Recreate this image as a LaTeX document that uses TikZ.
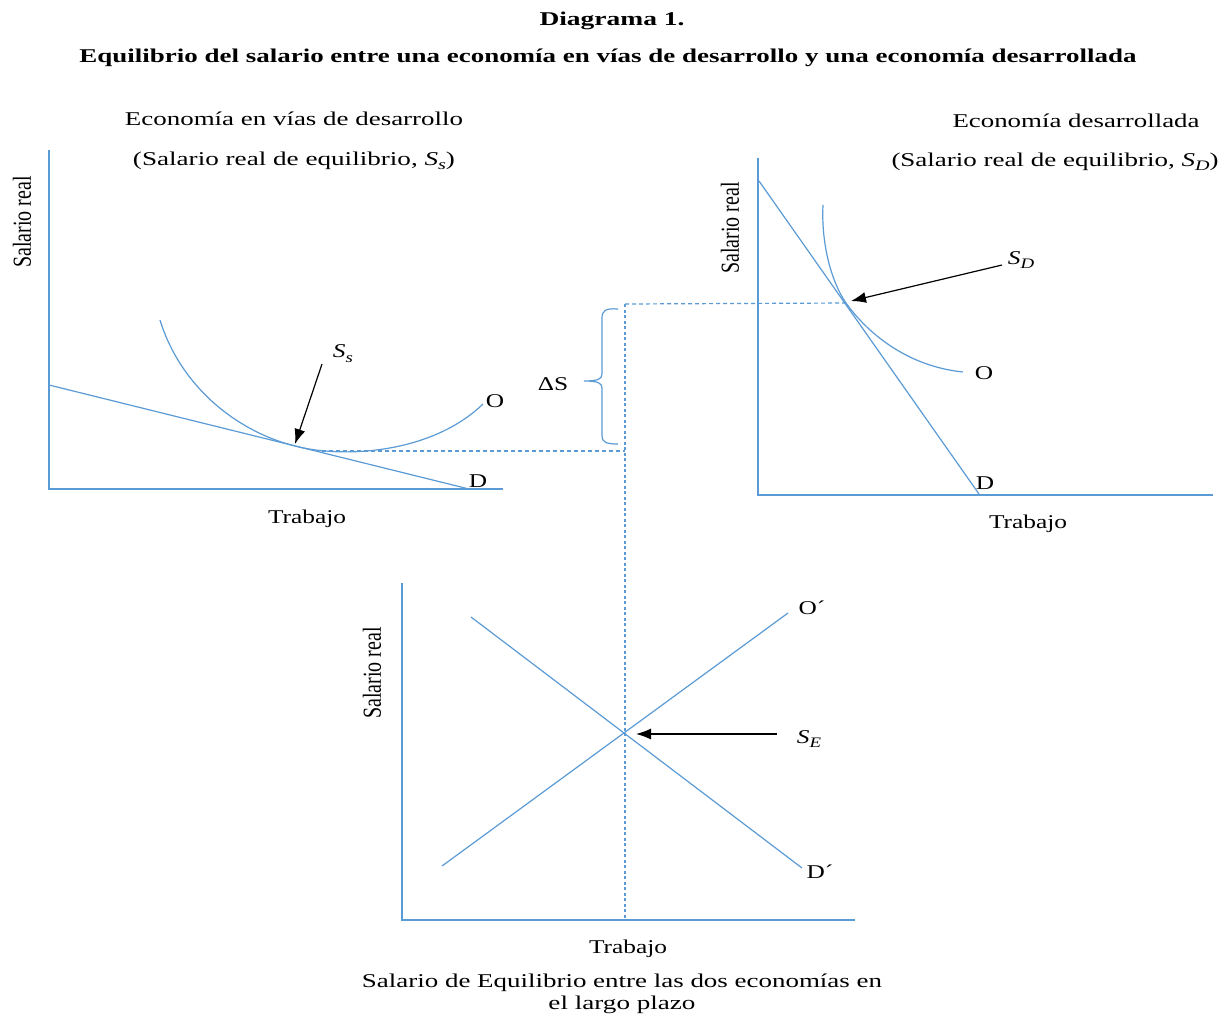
\documentclass[tikz,border=0pt]{standalone}
\usepackage{fontspec}
\setmainfont{Liberation Serif}
\usetikzlibrary{arrows.meta}
\definecolor{ln}{RGB}{91,155,213}
\newcommand{\hs}[2]{\resizebox{#1}{\height}{#2}}
\newcommand{\hx}[1]{\scalebox{1.3}[1]{#1}}
\newcommand{\vx}[1]{\scalebox{1}[1.3]{#1}}
\newcommand{\mysub}[2]{\textit{#1}\raisebox{-0.25em}{\fontsize{14.5}{14.5}\selectfont\textit{#2}}}
\begin{document}
\begin{tikzpicture}[x=1pt,y=-1pt,
  every node/.style={inner sep=0pt, font=\fontsize{19.5}{23}\selectfont},
  ax/.style={draw=ln, line width=1.3pt},
  cv/.style={draw=ln, line width=1.2pt},
  dsh/.style={draw=ln, line width=1.2pt, dash pattern=on 4pt off 3pt},
  dshv/.style={draw=ln, line width=1.1pt, dash pattern=on 3pt off 2.5pt},
  arr/.style={draw=black, line width=1.2pt, -{Latex[length=15pt,width=11pt]}},
  lab/.style={anchor=base},
  vlab/.style={rotate=90, anchor=center, font=\fontsize{20}{24}\selectfont}]
\useasboundingbox (0,0) rectangle (1228,1015);
\fill[white] (0,0) rectangle (1228,1015);

% titles
\node[lab] (t1) at (612,25) {\hs{145pt}{\bfseries Diagrama 1.}};
\node[lab] (t2) at (608,62) {\hs{1057pt}{\bfseries Equilibrio del salario entre una economía en vías de desarrollo y una economía desarrollada}};

% left headings
\node[lab] (lh1) at (294,125) {\hs{338pt}{Economía en vías de desarrollo}};
\node[lab] (lh2) at (294,165) {\hs{322pt}{(Salario real de equilibrio, \mysub{S}{s})}};
% right headings
\node[lab] (rh1) at (1076,127) {\hs{247pt}{Economía desarrollada}};
\node[lab] (rh2) at (1055,166) {\hs{327pt}{(Salario real de equilibrio, \mysub{S}{D})}};

% ---------- left graph ----------
\coordinate (Ltop) at (49,150);
\coordinate (Lo) at (49,489);
\coordinate (Lx) at (503,489);
\draw[ax] (Ltop) -- (Lo) -- (Lx);
\coordinate (Ld1) at (49,385);
\coordinate (Ld2) at (469,489);
\draw[cv] (Ld1) -- (Ld2);
\coordinate (Lc1) at (160,320);
\coordinate (Lt) at (295,446);
\coordinate (Lc2) at (483,404);
\draw[cv] (Lc1) .. controls (180,385) and (235,431) .. (Lt)
               .. controls (340,458) and (430,455) .. (Lc2);
\node (LO) at (495,401) {\hx{O}};
\node (LD) at (478,481) {\hx{D}};
\node[vlab] (Lyl) at (22,222) {\vx{Salario real}};
\node[lab] (Lxl) at (307,523) {\hx{Trabajo}};
\coordinate (Ssa) at (322,364);
\coordinate (Sst) at (295,444);
\draw[arr] (Ssa) -- (Sst);
\node (Ss) at (343,354) {\hx{\mysub{S}{s}}};

% dashed connectors
\coordinate (Lm) at (322,451);
\coordinate (Vb) at (625,451);
\coordinate (Vt) at (625,304);
\coordinate (Vbot) at (625,921);
\coordinate (Rt) at (846,303);
\draw[dsh] (Lm) -- (Vb);
\draw[dsh] (Vt) -- (Rt);
\draw[dshv] (Vt) -- (Vbot);

% brace
\draw[cv] (618,309) .. controls (605,308) and (602,311) .. (602,318) -- (602,374)
          .. controls (602,379) and (598,381) .. (584,381)
          .. controls (598,381) and (602,383) .. (602,388) -- (602,436)
          .. controls (602,442) and (606,444) .. (618,444);
\node (dS) at (553,384) {\hx{ΔS}};

% ---------- right graph ----------
\coordinate (Rtop) at (758,158);
\coordinate (Ro) at (758,495);
\coordinate (Rx) at (1213,495);
\draw[ax] (Rtop) -- (Ro) -- (Rx);
\coordinate (Rd1) at (759,181);
\coordinate (Rd2) at (979,494);
\draw[cv] (Rd1) -- (Rd2);
\coordinate (Rc1) at (823,205);
\coordinate (Rc2) at (963,372);
\draw[cv] (Rc1) .. controls (821,245) and (832,283) .. (Rt)
               .. controls (866,331) and (905,366) .. (Rc2);
\node (RO) at (984,373) {\hx{O}};
\node (RD) at (985,483) {\hx{D}};
\node[vlab] (Ryl) at (730,228) {\vx{Salario real}};
\node[lab] (Rxl) at (1028,528) {\hx{Trabajo}};
\coordinate (Sda) at (1002,265);
\coordinate (Sdt) at (851,301);
\draw[arr] (Sda) -- (Sdt);
\node (Sd) at (1021,260) {\hx{\mysub{S}{D}}};

% ---------- bottom graph ----------
\coordinate (Btop) at (402,583);
\coordinate (Bo) at (402,920);
\coordinate (Bx) at (855,920);
\draw[ax] (Btop) -- (Bo) -- (Bx);
\coordinate (Bo1) at (442,866);
\coordinate (Bo2) at (788,613);
\coordinate (Bd1) at (471,617);
\coordinate (Bd2) at (802,868);
\draw[cv] (Bo1) -- (Bo2);
\draw[cv] (Bd1) -- (Bd2);
\node (BO) at (812,608) {\hx{O´}};
\node (BD) at (820,872) {\hx{D´}};
\coordinate (Sea) at (777,734);
\coordinate (Set) at (636,734);
\draw[arr] (Sea) -- (Set);
\node (Se) at (809,739) {\hx{\mysub{S}{E}}};
\node[vlab] (Byl) at (372,673) {\vx{Salario real}};
\node[lab] (Bxl) at (628,953) {\hx{Trabajo}};
\node[lab] (c1) at (622,987) {\hs{520pt}{Salario de Equilibrio entre las dos economías en}};
\node[lab] (c2) at (622,1009) {\hs{147pt}{el largo plazo}};
\end{tikzpicture}
\end{document}
